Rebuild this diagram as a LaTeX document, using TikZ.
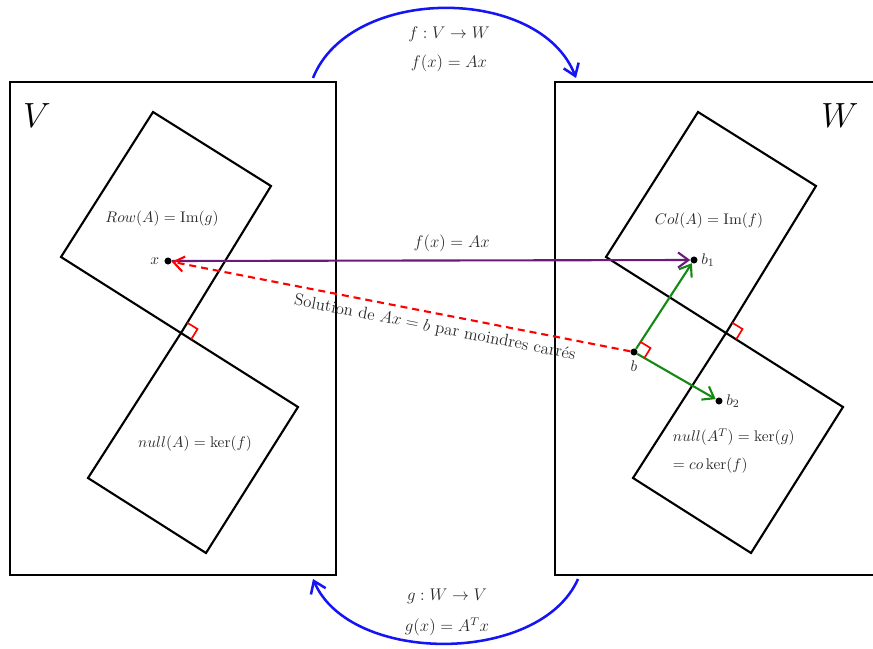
\documentclass[tikz,border=0pt]{standalone}
\usepackage{amsmath,amssymb}
\usepackage{xcolor}
\usepackage{tikz}
\usetikzlibrary{calc,arrows.meta}
\definecolor{maparc}{HTML}{1414F5}
\definecolor{imgline}{HTML}{6A1B7A}
\definecolor{projgreen}{HTML}{148A14}
\definecolor{lbltext}{HTML}{2A2A2A}

\begin{document}
\begin{tikzpicture}[x=0.025cm, y=-0.025cm,
  space/.style={line width=1.7pt},
  subspace/.style={line width=1.5pt, line join=miter},
  mapping/.style={maparc, line width=1.8pt, -{Straight Barb[length=2.8mm,width=4mm]}},
  rightmark/.style={red, line width=1.2pt},
  vec/.style={line width=1.5pt, -{Straight Barb[length=2.6mm,width=3.8mm]}},
  pt/.style={circle, fill=black, inner sep=0pt, minimum size=5pt},
  lbl/.style={text=lbltext, font=\fontsize{11}{20}\selectfont},
  biglbl/.style={font=\fontsize{24}{28}\selectfont}]
  \useasboundingbox (0,0) rectangle (873,649);
  \clip (0,0) rectangle (873,649);

  % Spaces V and W
  \draw[space] (10,82) rectangle (336,575);
  \draw[space] (555,82) rectangle (890,575);
  \node[biglbl] (Vname) at (37,116) {$V$};
  \node[biglbl] (Wname) at (840,116) {$W$};

  % Subspaces of V
  \coordinate (cV) at (181,333);
  \draw[subspace] (cV) -- (61,257) -- (153,112) -- (271,186) -- cycle;
  \draw[subspace] (cV) -- (298,407) -- (206,553) -- (88,478) -- cycle;
  \draw[rightmark] ($(cV)+(58.5:0.3cm)$) -- ++(-31.5:0.3cm) -- ++(238.5:0.3cm);
  \node[lbl] (rowA) at (162,219) {$Row(A)=\mathrm{Im}(g)$};
  \node[lbl] (nullA) at (195,444) {$null(A)=\ker(f)$};

  % Subspaces of W
  \coordinate (cW) at (726,333);
  \draw[subspace] (cW) -- (606,257) -- (698,112) -- (816,186) -- cycle;
  \draw[subspace] (cW) -- (843,407) -- (751,553) -- (633,478) -- cycle;
  \draw[rightmark] ($(cW)+(58.5:0.3cm)$) -- ++(-31.5:0.3cm) -- ++(238.5:0.3cm);
  \node[lbl] (colA) at (709,221) {$Col(A)=\mathrm{Im}(f)$};
  \node[lbl, anchor=west, align=left] (nullAT) at (668,451)
    {$null(A^{T})=\ker(g)$\\$=co\ker(f)$};

  % Points
  \node[pt, label={[lbl]left:$x$}] (x) at (168,261) {};
  \node[pt, label={[lbl, label distance=0pt]below:$b$}] (b) at (634,352) {};
  \node[pt, label={[lbl, label distance=-1pt]right:$b_1$}] (b1) at (694,260) {};
  \node[pt, label={[lbl, label distance=-1pt]right:$b_2$}] (b2) at (719,401) {};

  % f(x) = Ax
  \draw[vec, imgline] (x) -- (b1)
    node[lbl, pos=0.54, above=2pt, font=\large] {$f(x)=Ax$};

  % Least squares
  \draw[vec, red, dash pattern=on 5pt off 3.5pt] (b) -- (x)
    node[lbl, pos=0.42, sloped, below=1pt, font=\large] {Solution de $Ax=b$ par moindres carrés};

  % Projections of b
  \draw[vec, projgreen] (b) -- (b1);
  \draw[vec, projgreen] (b) -- (b2);
  \draw[rightmark] ($(b)+(58.5:0.3cm)$) -- ++(-31.5:0.3cm) -- ++(238.5:0.3cm);

  % Maps f and g
  \coordinate (fstart) at (313,78);
  \coordinate (fend) at (576,78);
  \coordinate (gstart) at (578,579);
  \coordinate (gend) at (313,579);
  \draw[mapping] (fstart) .. controls (350,-15) and (540,-15) .. (fend);
  \draw[mapping] (gstart) .. controls (540,665) and (350,665) .. (gend);
  \node[lbl, font=\fontsize{12}{20.5}\selectfont, align=center] (fdef) at (449,49)
    {$f:V\to W$\\$f(x)=Ax$};
  \node[lbl, font=\fontsize{12}{22}\selectfont, align=center] (gdef) at (447,612)
    {$g:W\to V$\\$g(x)=A^{T}x$};
\end{tikzpicture}
\end{document}
